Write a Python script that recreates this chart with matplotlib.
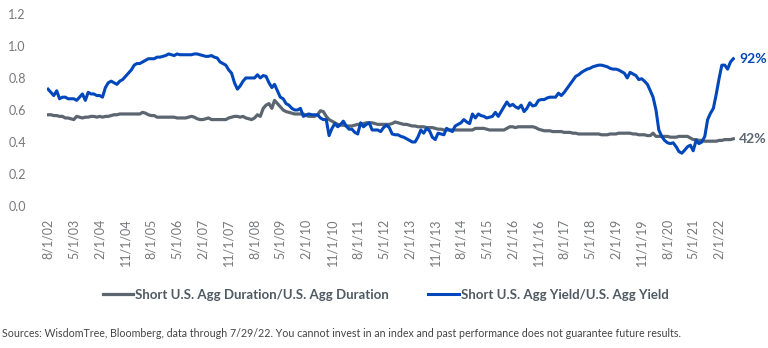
import matplotlib
matplotlib.use('Agg')
import matplotlib.pyplot as plt
import pandas as pd

plt.rcParams['font.family'] = ['Lato', 'DejaVu Sans']

# monthly ratios, Aug 2002 .. Jul 2022
duration_ratio = [
    0.57, 0.57, 0.565, 0.565, 0.56, 0.56, 0.55, 0.55, 0.545, 0.54, 0.56, 0.555,
    0.55, 0.555, 0.555, 0.56, 0.56, 0.555, 0.56, 0.555, 0.56, 0.56, 0.565, 0.57,
    0.57, 0.575, 0.575, 0.575, 0.575, 0.575, 0.575, 0.575, 0.575, 0.585, 0.58, 0.57,
    0.565, 0.565, 0.555, 0.555, 0.555, 0.555, 0.555, 0.555, 0.555, 0.55, 0.55, 0.55,
    0.55, 0.555, 0.56, 0.555, 0.545, 0.54, 0.54, 0.545, 0.55, 0.54, 0.54, 0.54,
    0.54, 0.54, 0.54, 0.55, 0.555, 0.56, 0.56, 0.555, 0.56, 0.55, 0.545, 0.54,
    0.55, 0.57, 0.56, 0.61, 0.63, 0.64, 0.61, 0.66, 0.64, 0.62, 0.60, 0.59,
    0.585, 0.58, 0.575, 0.575, 0.575, 0.575, 0.565, 0.56, 0.56, 0.56, 0.57, 0.595,
    0.59, 0.56, 0.54, 0.53, 0.52, 0.51, 0.505, 0.505, 0.50, 0.50, 0.50, 0.505,
    0.51, 0.51, 0.515, 0.52, 0.52, 0.52, 0.515, 0.51, 0.51, 0.51, 0.51, 0.51,
    0.515, 0.525, 0.52, 0.515, 0.51, 0.51, 0.505, 0.50, 0.50, 0.495, 0.495, 0.495,
    0.49, 0.49, 0.49, 0.485, 0.48, 0.48, 0.475, 0.475, 0.475, 0.475, 0.475, 0.475,
    0.475, 0.475, 0.475, 0.475, 0.475, 0.485, 0.485, 0.485, 0.485, 0.48, 0.475, 0.475,
    0.475, 0.475, 0.475, 0.475, 0.485, 0.495, 0.495, 0.49, 0.495, 0.495, 0.495, 0.495,
    0.495, 0.495, 0.49, 0.48, 0.475, 0.47, 0.47, 0.47, 0.465, 0.465, 0.465, 0.465,
    0.46, 0.46, 0.46, 0.455, 0.455, 0.45, 0.45, 0.45, 0.45, 0.45, 0.45, 0.45,
    0.45, 0.445, 0.445, 0.445, 0.45, 0.45, 0.45, 0.455, 0.455, 0.455, 0.455, 0.455,
    0.45, 0.45, 0.445, 0.445, 0.445, 0.44, 0.44, 0.455, 0.435, 0.435, 0.435, 0.435,
    0.435, 0.43, 0.43, 0.43, 0.435, 0.435, 0.435, 0.435, 0.425, 0.415, 0.415, 0.41,
    0.41, 0.405, 0.405, 0.405, 0.405, 0.405, 0.41, 0.41, 0.415, 0.415, 0.415, 0.42,
]
yield_ratio = [
    0.73, 0.71, 0.69, 0.72, 0.67, 0.68, 0.68, 0.67, 0.67, 0.67, 0.66, 0.68,
    0.70, 0.66, 0.71, 0.70, 0.70, 0.69, 0.69, 0.68, 0.74, 0.77, 0.78, 0.77,
    0.76, 0.78, 0.79, 0.81, 0.83, 0.85, 0.88, 0.89, 0.89, 0.90, 0.91, 0.92,
    0.92, 0.92, 0.93, 0.93, 0.935, 0.94, 0.95, 0.945, 0.94, 0.95, 0.945, 0.945,
    0.945, 0.945, 0.945, 0.95, 0.95, 0.945, 0.94, 0.935, 0.935, 0.94, 0.93, 0.925,
    0.90, 0.89, 0.88, 0.85, 0.83, 0.77, 0.73, 0.75, 0.78, 0.80, 0.80, 0.80,
    0.80, 0.82, 0.80, 0.815, 0.81, 0.77, 0.74, 0.76, 0.72, 0.68, 0.67, 0.64,
    0.63, 0.61, 0.60, 0.60, 0.61, 0.56, 0.57, 0.575, 0.57, 0.57, 0.57, 0.55,
    0.54, 0.54, 0.44, 0.485, 0.515, 0.495, 0.51, 0.53, 0.50, 0.48, 0.48, 0.46,
    0.45, 0.52, 0.495, 0.51, 0.52, 0.475, 0.475, 0.475, 0.465, 0.49, 0.505, 0.49,
    0.45, 0.445, 0.445, 0.435, 0.43, 0.42, 0.41, 0.40, 0.40, 0.43, 0.475, 0.455,
    0.485, 0.47, 0.43, 0.415, 0.455, 0.45, 0.445, 0.485, 0.475, 0.465, 0.50, 0.51,
    0.52, 0.54, 0.525, 0.515, 0.575, 0.55, 0.575, 0.565, 0.56, 0.55, 0.555, 0.56,
    0.585, 0.56, 0.59, 0.62, 0.65, 0.625, 0.635, 0.62, 0.61, 0.63, 0.59, 0.61,
    0.645, 0.625, 0.63, 0.66, 0.665, 0.665, 0.675, 0.68, 0.68, 0.68, 0.705, 0.69,
    0.71, 0.735, 0.76, 0.785, 0.81, 0.82, 0.835, 0.845, 0.855, 0.86, 0.87, 0.875,
    0.88, 0.88, 0.875, 0.87, 0.86, 0.855, 0.855, 0.85, 0.84, 0.83, 0.80, 0.835,
    0.825, 0.815, 0.79, 0.795, 0.78, 0.76, 0.72, 0.68, 0.60, 0.475, 0.435, 0.41,
    0.395, 0.39, 0.395, 0.37, 0.34, 0.33, 0.35, 0.37, 0.38, 0.345, 0.41, 0.39,
    0.40, 0.435, 0.54, 0.58, 0.61, 0.70, 0.80, 0.88, 0.88, 0.855, 0.90, 0.92,
]
dates = pd.date_range('2002-08-01', periods=len(yield_ratio), freq='MS')
tick_dates = dates[::9]
tick_labels = [f'{d.month}/1/{d:%y}' for d in tick_dates]
end_labels = ['42%', '92%']

GREY = '#5b6670'
BLUE = '#0047bb'
TXT = '#77787b'

fig = plt.figure(figsize=(7.68, 3.48), dpi=100)
ax = fig.add_axes([0.0607, 0.408, 0.896, 0.552])

ax.plot(dates, duration_ratio, color=GREY, lw=2.3,
        label='Short U.S. Agg Duration/U.S. Agg Duration')
ax.plot(dates, yield_ratio, color=BLUE, lw=2.2,
        label='Short U.S. Agg Yield/U.S. Agg Yield')

ax.annotate(end_labels[0], (dates[-1], duration_ratio[-1]), xytext=(4, 0),
            textcoords='offset points', va='center', ha='left',
            color=GREY, fontsize=10, fontweight='bold', annotation_clip=False)
ax.annotate(end_labels[1], (dates[-1], yield_ratio[-1]), xytext=(4, 0),
            textcoords='offset points', va='center', ha='left',
            color=BLUE, fontsize=10, fontweight='bold', annotation_clip=False)

ax.set_ylim(0, 1.2)
ax.set_yticks([0.0, 0.2, 0.4, 0.6, 0.8, 1.0, 1.2])
ax.set_yticklabels([f'{v:.1f}' for v in ax.get_yticks()])
ax.set_xlim(dates[0] - pd.Timedelta(days=15), dates[-1] + pd.Timedelta(days=15))
ax.set_xticks(tick_dates)
ax.set_xticklabels(tick_labels, rotation=90)
ax.tick_params(axis='both', length=0, labelsize=9, labelcolor=TXT)
ax.tick_params(axis='y', pad=15)
ax.tick_params(axis='x', pad=9)
for s in ax.spines.values():
    s.set_visible(False)

fig.legend(loc='center', bbox_to_anchor=(0.502, 0.152), ncol=2, frameon=False,
           handlelength=2.3, handletextpad=0.15, columnspacing=3.0,
           prop={'weight': 'bold', 'size': 9.5}, labelcolor='#505a63')

fig.text(0.003, 0.043, 'Sources: WisdomTree, Bloomberg, data through 7/29/22. '
         'You cannot invest in an index and past performance does not guarantee future results.',
         fontsize=7.65, color='#444444', ha='left', va='center')

fig.savefig('out.png', dpi=100)
